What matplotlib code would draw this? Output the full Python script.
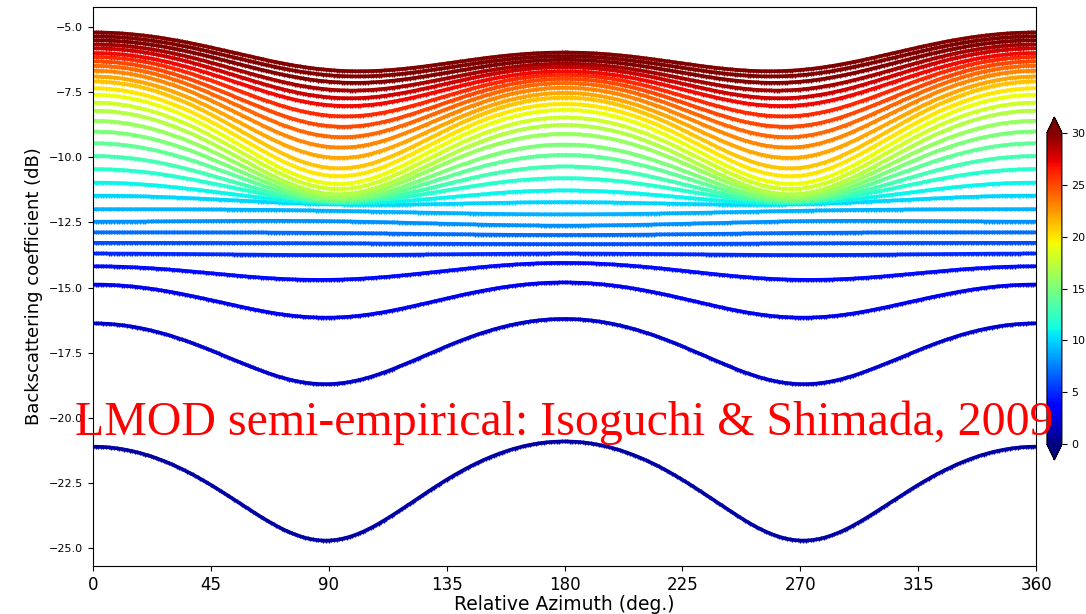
import numpy as np
import matplotlib.pyplot as plt
import matplotlib as mpl

# wind speeds (m/s) drawn as separate curves
wind_speed = [1, 2, 3, 4, 5, 6, 7, 8, 9, 10, 11, 12, 13, 14, 15, 16,
              17, 18, 19, 20, 21, 22, 23, 24, 25, 26, 27, 28, 29, 30, 31, 32]

# backscatter (dB) read at relative azimuth 0 deg (upwind)
sig_0 = [-21.10, -16.37, -14.88, -14.18, -13.69, -13.28, -12.88, -12.47,
         -11.99, -11.47, -10.97, -10.45, -9.95, -9.46, -9.01, -8.60,
         -8.21, -7.90, -7.60, -7.35, -7.09, -6.90, -6.68, -6.49,
         -6.32, -6.15, -6.00, -5.82, -5.67, -5.51, -5.36, -5.21]

# backscatter (dB) at 90 deg (crosswind)
sig_90 = [-24.70, -18.70, -16.15, -14.70, -13.75, -13.30, -12.90, -12.45,
          -12.05, -11.80, -11.75, -11.70, -11.70, -11.65, -11.60, -11.50,
          -11.40, -11.20, -11.00, -10.70, -10.40, -10.00, -9.60, -9.20,
          -8.80, -8.40, -8.00, -7.70, -7.40, -7.10, -6.85, -6.65]

# backscatter (dB) at 180 deg (downwind)
sig_180 = [-20.90, -16.20, -14.80, -14.05, -13.69, -13.33, -12.98, -12.62,
           -12.19, -11.72, -11.27, -10.80, -10.35, -9.91, -9.51, -9.10,
           -8.76, -8.47, -8.18, -7.95, -7.71, -7.53, -7.33, -7.15,
           -6.99, -6.84, -6.70, -6.54, -6.41, -6.26, -6.12, -5.98]

title = 'Incidence angle 35 deg., pol: HH, wind speed (m/s)'
note = 'LMOD semi-empirical: Isoguchi & Shimada, 2009'

phi = np.arange(0, 361, 1)
rad = np.deg2rad(phi)

fig = plt.figure(figsize=(10.86, 6.14), dpi=100)
ax = fig.add_axes([0.0856, 0.0782, 0.8684, 0.9104])

cmap = plt.get_cmap('jet')
norm = mpl.colors.Normalize(vmin=0, vmax=30)

for u, a, b, c in zip(wind_speed, sig_0, sig_90, sig_180):
    # harmonic azimuth model A0 + A1 cos(phi) + A2 cos(2 phi) in linear units
    s0, s90, s180 = 10 ** (a / 10), 10 ** (b / 10), 10 ** (c / 10)
    a1 = (s0 - s180) / 2
    mean_ud = (s0 + s180) / 2
    a0 = (mean_ud + s90) / 2
    a2 = (mean_ud - s90) / 2
    sig = 10 * np.log10(a0 + a1 * np.cos(rad) + a2 * np.cos(2 * rad))
    ax.plot(phi, sig, color=cmap(norm(min(u, 30))), lw=2.6, marker='+', ms=3)

ax.set_xlim(0, 360)
ax.set_xticks(np.arange(0, 361, 45))
ax.tick_params(axis='x', labelsize=12)
ax.tick_params(axis='y', labelsize=8)
ax.set_xlabel('Relative Azimuth (deg.)', fontsize=13.5, labelpad=1)
ax.set_ylabel('Backscattering coefficient (dB)', fontsize=13)
ax.set_title(title, fontsize=12, pad=10)

cax = fig.add_axes([0.964, 0.2508, 0.0138, 0.5586])
sm = mpl.cm.ScalarMappable(norm=norm, cmap=cmap)
cb = fig.colorbar(sm, cax=cax, extend='both', ticks=np.arange(0, 31, 5))
cb.ax.tick_params(labelsize=8)

fig.text(0.520, 0.2915, note, color='red', fontsize=34.5,
         family=['Liberation Serif', 'DejaVu Serif'], ha='center', va='baseline')

fig.savefig('out.png', dpi=100)
